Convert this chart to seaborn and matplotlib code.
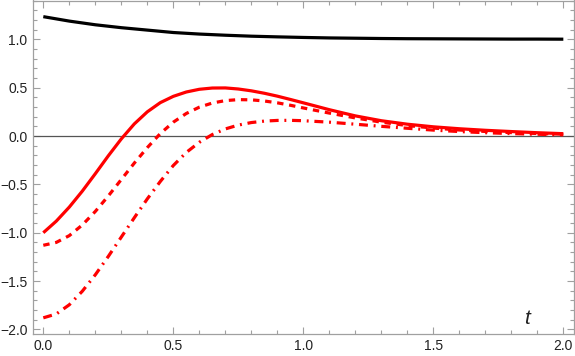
import matplotlib
matplotlib.use("Agg")
import matplotlib.pyplot as plt
import seaborn as sns
from matplotlib.ticker import MultipleLocator

# time samples (finer where the red curves bend)
t_red = [0.00, 0.05, 0.10, 0.15, 0.20, 0.25, 0.30, 0.35, 0.40, 0.45, 0.50,
         0.55, 0.60, 0.65, 0.70, 0.75, 0.80, 0.85, 0.90, 0.95, 1.00,
         1.10, 1.20, 1.30, 1.40, 1.50, 1.60, 1.70, 1.80, 1.90, 2.00]
t_black = [0.0, 0.1, 0.2, 0.3, 0.4, 0.5, 0.6, 0.7, 0.8, 0.9, 1.0,
           1.1, 1.2, 1.3, 1.4, 1.5, 1.6, 1.7, 1.8, 1.9, 2.0]

black_vals = [1.234, 1.188, 1.150, 1.120, 1.095, 1.070, 1.054, 1.042, 1.032, 1.025, 1.019,
              1.014, 1.011, 1.008, 1.006, 1.005, 1.004, 1.003, 1.002, 1.002, 1.001]
red_solid = [-1.00, -0.88, -0.735, -0.57, -0.39, -0.205, -0.03, 0.125, 0.25, 0.345, 0.41,
             0.455, 0.483, 0.496, 0.497, 0.486, 0.467, 0.442, 0.412, 0.378, 0.343,
             0.272, 0.208, 0.158, 0.122, 0.095, 0.075, 0.059, 0.046, 0.034, 0.024]
red_dashed = [-1.13, -1.10, -1.03, -0.92, -0.78, -0.62, -0.45, -0.28, -0.12, 0.025, 0.143,
              0.233, 0.298, 0.341, 0.366, 0.376, 0.374, 0.362, 0.343, 0.318, 0.29,
              0.237, 0.187, 0.143, 0.108, 0.082, 0.062, 0.047, 0.035, 0.026, 0.019]
red_dashdot = [-1.88, -1.84, -1.745, -1.605, -1.435, -1.245, -1.045, -0.845, -0.65, -0.47, -0.305,
               -0.17, -0.065, 0.015, 0.073, 0.113, 0.139, 0.154, 0.161, 0.162, 0.158,
               0.143, 0.122, 0.10, 0.08, 0.061, 0.046, 0.034, 0.025, 0.018, 0.012]

sns.set_style("ticks")
plt.rcParams['font.family'] = ['Liberation Sans', 'DejaVu Sans']

W, H = 575, 356
fig = plt.figure(figsize=(W / 100, H / 100), dpi=100)
ax = fig.add_axes([33 / W, 22.5 / H, 541 / W, 333 / H])

frame_col = '#a0a0a0'
# axis line at y = 0
ax.axhline(0, color='#555555', lw=0.9, zorder=1)

sns.lineplot(x=t_black, y=black_vals, color='black', lw=2.3, ax=ax)
sns.lineplot(x=t_red, y=red_solid, color='#ff0000', lw=2.3, ax=ax)
sns.lineplot(x=t_red, y=red_dashed, color='#ff0000', lw=2.3,
             linestyle=(0, (2.0, 1.8)), ax=ax)
sns.lineplot(x=t_red, y=red_dashdot, color='#ff0000', lw=2.3,
             linestyle=(0, (2.8, 1.8, 0.6, 1.8)), ax=ax)
for ln in ax.get_lines():
    ln.set_dash_capstyle('butt')
    ln.set_solid_capstyle('butt')
    ln.set_solid_joinstyle('round')

ax.set_xlim(-0.0396, 2.041)
ax.set_ylim(-2.042, 1.401)

ax.xaxis.set_major_locator(MultipleLocator(0.5))
ax.xaxis.set_minor_locator(MultipleLocator(0.1))
ax.yaxis.set_major_locator(MultipleLocator(0.5))
ax.yaxis.set_minor_locator(MultipleLocator(0.1))
ax.xaxis.set_major_formatter(plt.FuncFormatter(lambda v, p: f'{v:.1f}'))
ax.yaxis.set_major_formatter(plt.FuncFormatter(lambda v, p: f'{v:.1f}'.replace('-', '\u2212')))

ax.tick_params(which='both', direction='in', top=True, right=True,
               color=frame_col, width=0.8, labelsize=10, labelcolor='#222222', pad=4)
ax.tick_params(which='major', length=5)
ax.tick_params(which='minor', length=3)
for sp in ax.spines.values():
    sp.set_color(frame_col)
    sp.set_linewidth(0.9)

ax.set_xlabel('')
ax.set_ylabel('')
ax.text(1.86, -1.89, 't', fontstyle='italic', fontsize=15, ha='center', va='center',
        color='#222222')

fig.savefig('out.png', dpi=100)
